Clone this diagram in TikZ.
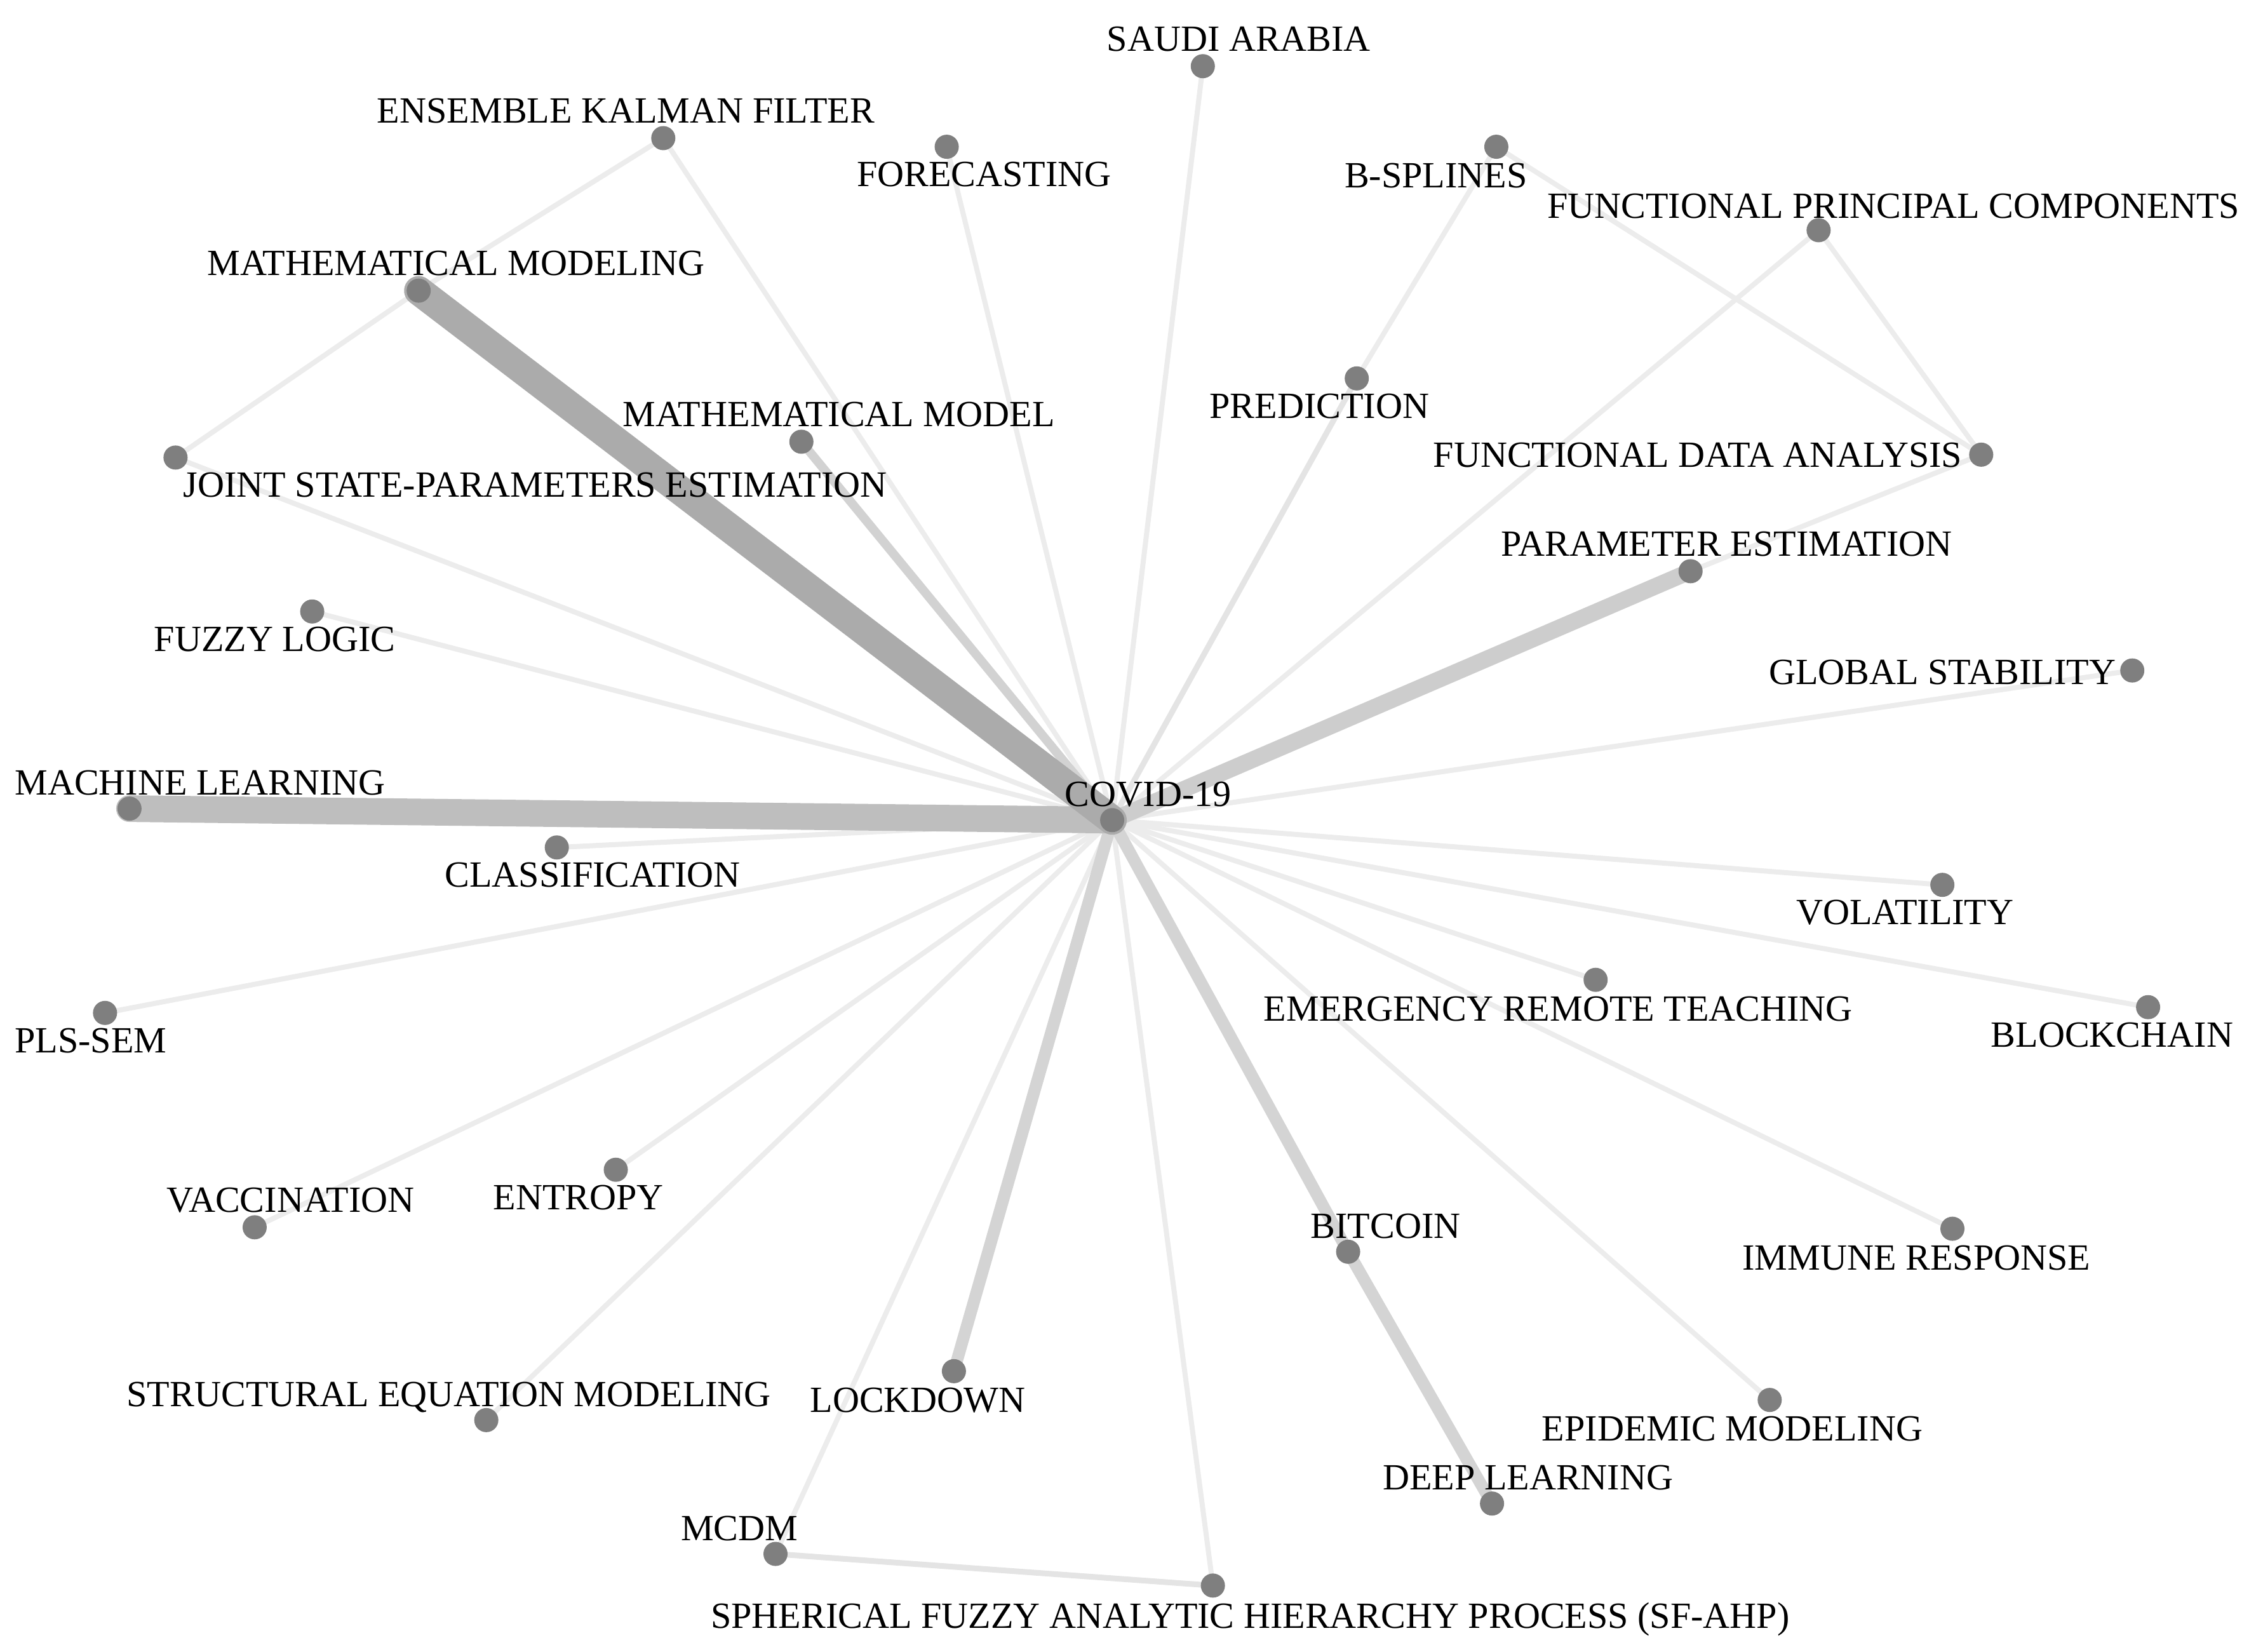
\documentclass[tikz,border=0pt]{standalone}
\usepackage{fontspec}
\setmainfont{Liberation Serif}
\usetikzlibrary{backgrounds}
\definecolor{dotc}{HTML}{7F7F7F}
\definecolor{ethin}{HTML}{ECECEC}
\definecolor{elight}{HTML}{E4E4E4}
\definecolor{emm}{HTML}{ABABAB}
\definecolor{eml}{HTML}{BEBEBE}
\definecolor{epe}{HTML}{CDCDCD}
\definecolor{eld}{HTML}{D4D4D4}
\definecolor{emod}{HTML}{D2D2D2}
\begin{document}
\begin{tikzpicture}[x=0.022653cm,y=-0.022653cm,
  dot/.style={circle,fill=dotc,inner sep=0pt,minimum size=0.38cm},
  lbl/.style={anchor=base,yshift=-0.194cm,inner sep=0pt,font=\fontsize{16.55}{18}\selectfont,text=black},
  edge/.style={line cap=round,line width=0.08cm,draw=ethin},
  edgelight/.style={line cap=round,line width=0.09cm,draw=elight},
  edgemm/.style={line cap=round,line width=0.46cm,draw=emm},
  edgeml/.style={line cap=round,line width=0.42cm,draw=eml},
  edgepe/.style={line cap=round,line width=0.26cm,draw=epe},
  edgeld/.style={line cap=round,line width=0.19cm,draw=eld},
  edgemod/.style={line cap=round,line width=0.14cm,draw=emod}]
\useasboundingbox (0,0) rectangle (1568,1148);

% dots
\node[dot] (cov) at (773,570) {};
\node[dot] (sa) at (836,46) {};
\node[dot] (enkf) at (461,96) {};
\node[dot] (fc) at (658,102) {};
\node[dot] (bs) at (1040,102) {};
\node[dot] (fpc) at (1264,160) {};
\node[dot] (mm) at (291,202) {};
\node[dot] (mmod) at (557,307) {};
\node[dot] (pred) at (943,263) {};
\node[dot] (fda) at (1377,316) {};
\node[dot] (jspe) at (122,318) {};
\node[dot] (pe) at (1175,397) {};
\node[dot] (fl) at (217,425) {};
\node[dot] (gs) at (1482,466) {};
\node[dot] (ml) at (90,562) {};
\node[dot] (cl) at (387,589) {};
\node[dot] (vol) at (1350,615) {};
\node[dot] (ert) at (1109,681) {};
\node[dot] (bc) at (1493,700) {};
\node[dot] (pls) at (73,704) {};
\node[dot] (vac) at (177,853) {};
\node[dot] (ent) at (428,813) {};
\node[dot] (btc) at (937,870) {};
\node[dot] (ir) at (1357,854) {};
\node[dot] (sem) at (338,987) {};
\node[dot] (ld) at (663,953) {};
\node[dot] (em) at (1230,973) {};
\node[dot] (dl) at (1037,1045) {};
\node[dot] (mcdm) at (539,1080) {};
\node[dot] (sfahp) at (843,1102) {};

% edges
\begin{pgfonlayer}{background}
\foreach \t in {sa,enkf,fc,fpc,jspe,fl,gs,cl,vol,ert,bc,pls,vac,ent,ir,sem,em,mcdm,sfahp}
  \draw[edge] (cov.center) -- (\t.center);
\draw[edge] (enkf.center) -- (mm.center);
\draw[edge] (mm.center) -- (jspe.center);
\draw[edge] (bs.center) -- (pred.center);
\draw[edge] (bs.center) -- (fda.center);
\draw[edge] (fpc.center) -- (fda.center);
\draw[edge] (fda.center) -- (pe.center);
\draw[edgelight] (mcdm.center) -- (sfahp.center);
\draw[edgelight] (cov.center) -- (pred.center);
\draw[edgemod] (cov.center) -- (mmod.center);
\draw[edgeld] (cov.center) -- (ld.center);
\draw[edgeld] (cov.center) -- (btc.center);
\draw[edgeld] (btc.center) -- (dl.center);
\draw[edgepe] (cov.center) -- (pe.center);
\draw[edgeml] (cov.center) -- (ml.center);
\draw[edgemm] (cov.center) -- (mm.center);
\end{pgfonlayer}

% labels
\node[lbl] (l-cov) at (798,552) {COVID-19};
\node[lbl] (l-sa) at (861,27) {SAUDI ARABIA};
\node[lbl] (l-enkf) at (435,77) {ENSEMBLE KALMAN FILTER};
\node[lbl] (l-fc) at (684,121) {FORECASTING};
\node[lbl] (l-bs) at (998,122) {B-SPLINES};
\node[lbl] (l-fpc) at (1316,143) {FUNCTIONAL PRINCIPAL COMPONENTS};
\node[lbl] (l-mm) at (317,183) {MATHEMATICAL MODELING};
\node[lbl] (l-mmod) at (583,288) {MATHEMATICAL MODEL};
\node[lbl] (l-pred) at (917,282) {PREDICTION};
\node[lbl] (l-fda) at (1180,316) {FUNCTIONAL DATA ANALYSIS};
\node[lbl] (l-jspe) at (372,337) {JOINT STATE-PARAMETERS ESTIMATION};
\node[lbl] (l-pe) at (1200,378) {PARAMETER ESTIMATION};
\node[lbl] (l-fl) at (191,444) {FUZZY LOGIC};
\node[lbl] (l-gs) at (1350,467) {GLOBAL STABILITY};
\node[lbl] (l-ml) at (139,544) {MACHINE LEARNING};
\node[lbl] (l-cl) at (412,608) {CLASSIFICATION};
\node[lbl] (l-vol) at (1324,634) {VOLATILITY};
\node[lbl] (l-ert) at (1083,701) {EMERGENCY REMOTE TEACHING};
\node[lbl] (l-bc) at (1468,719) {BLOCKCHAIN};
\node[lbl] (l-pls) at (63,723) {PLS-SEM};
\node[lbl] (l-vac) at (202,834) {VACCINATION};
\node[lbl] (l-ent) at (402,832) {ENTROPY};
\node[lbl] (l-btc) at (963,852) {BITCOIN};
\node[lbl] (l-ir) at (1332,874) {IMMUNE RESPONSE};
\node[lbl] (l-sem) at (312,969) {STRUCTURAL EQUATION MODELING};
\node[lbl] (l-ld) at (638,973) {LOCKDOWN};
\node[lbl] (l-em) at (1204,993) {EPIDEMIC MODELING};
\node[lbl] (l-dl) at (1062,1027) {DEEP LEARNING};
\node[lbl] (l-mcdm) at (514,1062) {MCDM};
\node[lbl] (l-sfahp) at (869,1123) {SPHERICAL FUZZY ANALYTIC HIERARCHY PROCESS (SF-AHP)};
\end{tikzpicture}
\end{document}
